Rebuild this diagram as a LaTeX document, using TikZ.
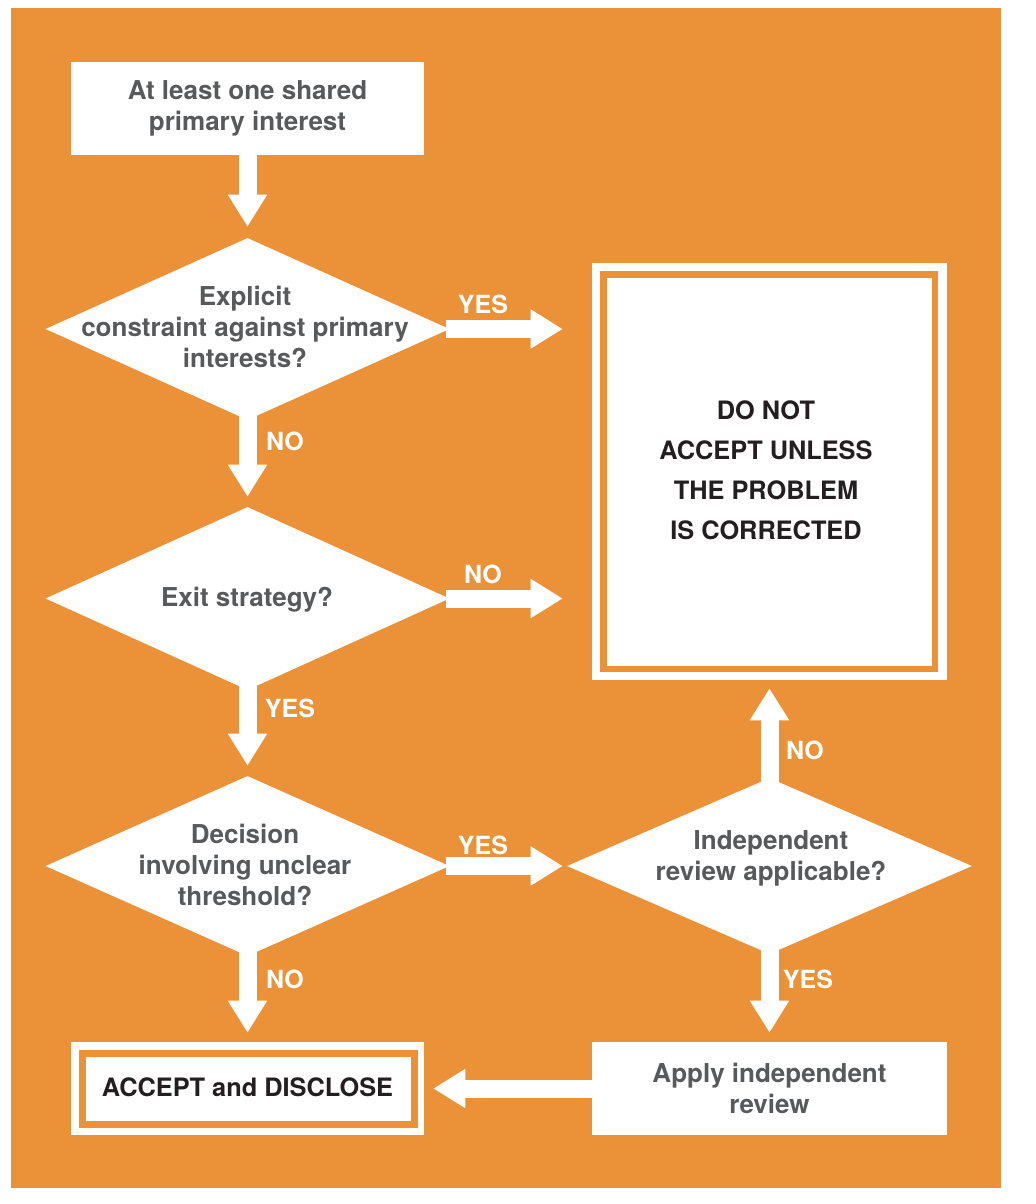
\documentclass[tikz,border=0pt]{standalone}
\usepackage{fontspec}
\setmainfont{TeX Gyre Heros}
\usetikzlibrary{arrows.meta,shapes.geometric}
\definecolor{bgor}{RGB}{235,146,56}
\definecolor{txtgray}{RGB}{88,89,91}
\definecolor{txtdark}{RGB}{35,31,32}
\begin{document}
\begin{tikzpicture}[x=0.75pt,y=-0.75pt,
  box/.style={fill=white,minimum width=353*0.75pt,minimum height=93*0.75pt,inner sep=0pt},
  dia/.style={diamond,fill=white,inner sep=0pt},
  qtext/.style={text=txtgray,font=\bfseries\fontsize{19.5}{23.25}\selectfont,align=center},
  dtext/.style={text=txtdark,font=\bfseries\fontsize{19}{30}\selectfont,align=center},
  lab/.style={text=white,font=\bfseries\fontsize{18.75}{22}\selectfont},
  arr/.style={draw=white,line width=13.5pt,-{Triangle[width=27.75pt,length=24pt]},shorten <=-3pt},
  band/.style={draw=bgor,line width=4.9pt}
]
\useasboundingbox (0,0) rectangle (1036,1204);
\fill[bgor] (11,8) rectangle (1001,1188);

% nodes
\node[box,qtext] (top) at (247.5,108.5) {At least one shared\\primary interest};

\node[dia,minimum width=404*0.75pt,minimum height=182*0.75pt] (d1) at (247.5,329) {};
\node[qtext] (d1t) at (245,327) {Explicit\\constraint against primary\\interests?};

\node[dia,minimum width=404*0.75pt,minimum height=183*0.75pt] (d2) at (247.5,598.5) {};
\node[qtext] (d2t) at (247,600) {Exit strategy?};

\node[dia,minimum width=404*0.75pt,minimum height=180*0.75pt] (d3) at (247.5,866) {};
\node[qtext] (d3t) at (245,865) {Decision\\involving unclear\\threshold?};

\node[dia,minimum width=405*0.75pt,minimum height=176*0.75pt] (d4) at (769.5,866) {};
\node[qtext] (d4t) at (771,858.5) {Independent\\review applicable?};

\node[fill=white,minimum width=355*0.75pt,minimum height=417*0.75pt,inner sep=0pt] (dn) at (769.5,471.5) {};
\draw[band] ([shift={(11.5,12)}]dn.north west) rectangle ([shift={(-12.5,-11.5)}]dn.south east);
\node[dtext] (dnt) at (766,470.5) {DO NOT\\ACCEPT UNLESS\\THE PROBLEM\\IS CORRECTED};

\node[box] (acc) at (247.5,1088.5) {};
\draw[band] ([shift={(12,12)}]acc.north west) rectangle ([shift={(-10,-11)}]acc.south east);
\node[dtext] (acct) at (247.5,1087) {ACCEPT and DISCLOSE};

\node[box,qtext,minimum width=355*0.75pt] (app) at (769.5,1088.5) {Apply independent\\review};

% connectors
\draw[arr,shorten >=11*0.75pt] (top.south) -- (d1.north);
\draw[arr,shorten >=10*0.75pt] (d1.south) -- (d2.north);
\draw[arr,shorten >=10*0.75pt] (d2.south) -- (d3.north);
\draw[arr,shorten >=9*0.75pt] (d3.south) -- (acc.north);
\draw[arr,shorten >=29*0.75pt] (d1.east) -- (d1.east -| dn.west);
\draw[arr,shorten >=29*0.75pt] (d2.east) -- (d2.east -| dn.west);
\draw[arr,shorten >=4*0.75pt] (d3.east) -- (d4.west);
\draw[arr,shorten >=8*0.75pt] (d4.north) -- (dn.south);
\draw[arr,shorten >=9*0.75pt] (d4.south) -- (app.north);
\draw[arr,shorten >=9*0.75pt,shorten <=0pt] (app.west) -- (acc.east);

% labels
\node[lab] (l1) at (483,304) {YES};
\node[lab] (l2) at (285,441) {NO};
\node[lab] (l3) at (483,574) {NO};
\node[lab] (l4) at (290,708) {YES};
\node[lab] (l5) at (483,845) {YES};
\node[lab] (l6) at (285,979) {NO};
\node[lab] (l7) at (805,750) {NO};
\node[lab] (l8) at (808,979) {YES};
\end{tikzpicture}
\end{document}
